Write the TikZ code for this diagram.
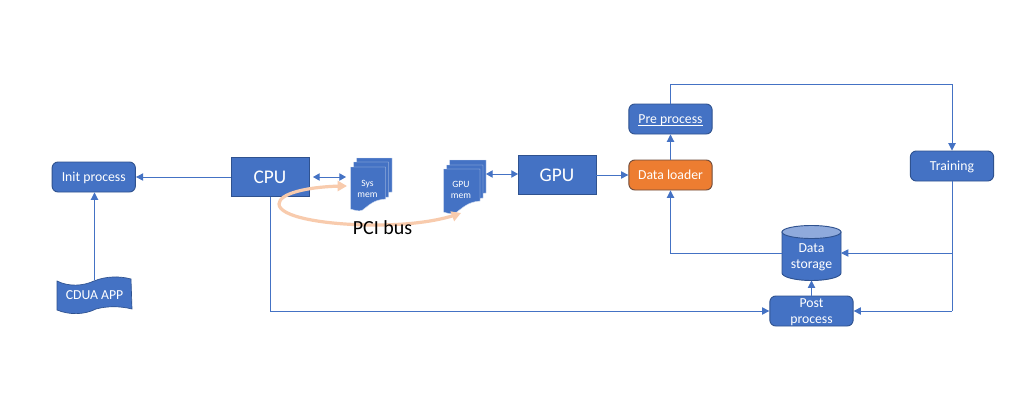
\documentclass[tikz,border=0pt]{standalone}
\usepackage{fontspec}
\setmainfont{Carlito}
\usetikzlibrary{arrows.meta,calc,bending}
\definecolor{bfill}{HTML}{4472C4}
\definecolor{bedge}{HTML}{2F528F}
\definecolor{ofill}{HTML}{ED7D31}
\definecolor{oedge}{HTML}{6E4A3A}
\definecolor{cyltop}{HTML}{8FAADC}
\definecolor{pci}{HTML}{F8CBAD}
\tikzset{
  x=0.75pt,y=-0.75pt,
  flow/.style={draw=bfill,line width=0.7pt,-{Triangle[length=5.5pt,width=5.5pt]}},
  bothway/.style={draw=bfill,line width=0.7pt,{Triangle[length=5pt,width=5.5pt]}-{Triangle[length=5pt,width=5.5pt]}},
  plain/.style={draw=bfill,line width=0.7pt},
  box/.style={rectangle,draw=bedge,fill=bfill,line width=0.7pt,text=white,inner sep=0pt,align=center,font=\fontsize{10.3}{12}\selectfont},
  roundbox/.style={box,rounded corners=4.5pt,minimum width=62.5pt,minimum height=22.5pt},
  textbox/.style={roundbox,text height=7.5pt,text depth=1.5pt},
  bigbox/.style={box,minimum width=58.5pt,minimum height=29pt,font=\fontsize{14.5}{16}\selectfont},
  label/.style={text=white,inner sep=0pt,align=center,font=\fontsize{10.3}{12}\selectfont},
  smalllabel/.style={text=white,inner sep=0pt,align=center,font=\fontsize{7.2}{8.25}\selectfont},
  page/.style={fill=bfill,draw=white!75!bfill,line width=0.3pt},
}
\newcommand{\docpage}[5]{% x0 y0 x1 right-bottom y, bottom-left y
  \path[page] (#1,#2) -- (#3,#2) -- (#3,#4)
    .. controls (#3-12,#4+1) and (#1+20,#5-5) .. (#1+12,#5+1)
    .. controls (#1+8,#5+3) and (#1+4,#5+1) .. (#1,#5) -- cycle;
}
\begin{document}
\begin{tikzpicture}
\useasboundingbox (0,0) rectangle (1018,407);
\fill[white] (0,0) rectangle (1018,407);

% multi-document stacks
\docpage{356.5}{158}{392}{192}{198}
\docpage{353.5}{162}{388.5}{197}{204}
\docpage{350.5}{167}{385.5}{199}{209}
\node[smalllabel] (sysmem) at (367.5,188.5) {Sys\\mem};
\docpage{449.5}{160}{486}{193}{200}
\docpage{446.5}{165}{483}{198}{206}
\docpage{443.5}{169}{480}{201}{212}
\node[smalllabel] (gpumem) at (461,189.5) {GPU\\mem};

% boxes
\node[textbox] (init) at (93.75,177) {Init process};
\node[bigbox] (cpu) at (270,177) {CPU};
\node[bigbox] (gpu) at (557,175) {GPU};
\node[textbox,fill=ofill,draw=oedge] (loader) at (670.5,175) {Data loader};
\node[textbox] (pre) at (670.5,119) {\underline{\raisebox{0pt}[\height][0.3pt]{Pre process}}};
\node[textbox] (train) at (952,166) {Training};
\node[roundbox] (post) at (811.5,311) {};
\node[label] (posttext) at (811.5,312) {Post\\process};

% cylinder
\path[fill=bfill,draw=bedge,line width=0.7pt]
  (782,232) -- (782,273) .. controls (782,277) and (795,280.5) .. (811.5,280.5)
  .. controls (828,280.5) and (841,277) .. (841,273) -- (841,232) -- cycle;
\path[fill=cyltop,draw=bedge,line width=0.7pt] (811.5,232) ellipse[x radius=29.5,y radius=6.5];
\node[label] (storage) at (811.5,257.5) {Data\\storage};
\coordinate (storeW) at (782,253);
\coordinate (storeE) at (841,253);
\coordinate (storeS) at (811.5,280.5);

% CDUA APP
\path[fill=bfill,draw=bedge,line width=0.5pt]
  (57,281) .. controls (69,287) and (83,286) .. (94,281)
  .. controls (106,276) and (120,276) .. (131,279)
  -- (132,309) .. controls (120,306) and (107,306) .. (96,309)
  .. controls (84,315) and (69,315) .. (57,310) -- cycle;
\node[label] (cdua) at (94.5,295.5) {CDUA APP};
\coordinate (cduatop) at (94.5,280);

% connectors
\draw[flow] (cduatop) -- (init.south -| cduatop);
\draw[flow] (cpu.west) -- (init.east);
\coordinate (cpuR) at (313,177);
\coordinate (sysL) at (346,177);
\draw[bothway] (cpuR) -- (sysL);
\coordinate (gpuL) at (518,174);
\coordinate (gmR) at (486,174);
\draw[bothway] (gmR) -- (gpuL);
\draw[flow] (gpu.east) -- (loader.west);
\draw[flow] (loader.north) -- (pre.south);
\coordinate (topL) at (pre.north |- 0,84);
\coordinate (topR) at (train.north |- 0,84);
\draw[flow] (pre.north) -- (topL) -- (topR) -- (train.north);
\coordinate (stL) at (loader.south |- storeW);
\draw[flow] (storeW) -- (stL) -- (loader.south);
\coordinate (trA) at (train.south |- storeE);
\draw[flow] (train.south) -- (trA) -- (storeE);
\coordinate (trB) at (train.south |- post.east);
\draw[plain] (trA) -- (trB);
\draw[flow] (trB) -- (post.east);
\draw[flow] (post.north) -- (storeS);
\coordinate (cpuS) at (270.5,196.5);
\coordinate (cpuC) at (270.5,311);
\draw[flow] (cpuS) -- (cpuC) -- (post.west);

% PCI bus
\coordinate (pciA) at (347,186);
\coordinate (pciB) at (461,213);
\draw[pci,line width=2.4pt,{Triangle[length=7pt,width=7.5pt,flex=0]}-{Triangle[length=7pt,width=7.5pt,flex=0]}]
  (pciA) .. controls (310,186) and (279,193) .. (279,204)
  .. controls (279,217) and (325,225) .. (375,225)
  .. controls (410,225) and (440,221) .. (pciB);
\node[inner sep=0pt,font=\fontsize{15}{16}\selectfont] (pcilabel) at (382.5,227.5) {PCI bus};
\end{tikzpicture}
\end{document}
